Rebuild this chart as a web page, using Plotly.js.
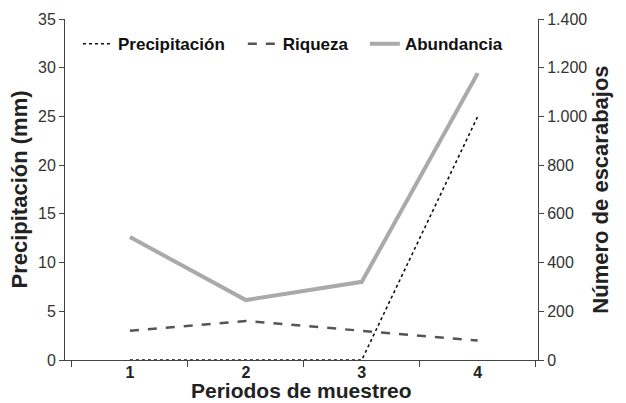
<!DOCTYPE html>
<html>
<head>
<meta charset="utf-8">
<script src="https://cdn.plot.ly/plotly-3.0.1.min.js"></script>
<style>html,body{margin:0;padding:0;background:#fff;}#chart{width:626px;height:403px;}</style>
</head>
<body>
<div id="chart"></div>
<script>
const periodos = [1, 2, 3, 4];
const periodLabels = ["1", "2", "3", "4"];
const precipitacion = [0, 0, 0, 25];
const riqueza = [3, 4, 3, 2];
const abundancia = [505, 246, 321, 1177];
const leftTicks = [0, 5, 10, 15, 20, 25, 30, 35];
const rightTicks = [0, 200, 400, 600, 800, 1000, 1200, 1400];

const FONT = "Liberation Sans, Arial, sans-serif";
const traces = [
  {x: periodos, y: precipitacion, name: "<b>Precipitación</b>", mode: "lines",
   line: {color: "#111", width: 1.6, dash: "dot"}, yaxis: "y", legend: "legend"},
  {x: periodos, y: riqueza, name: "<b>Riqueza</b>", mode: "lines",
   line: {color: "#555", width: 2.5, dash: "dash"}, yaxis: "y", legend: "legend2"},
  {x: periodos, y: abundancia, name: "<b>Abundancia</b>", mode: "lines",
   line: {color: "#aaaaaa", width: 4}, yaxis: "y2", legend: "legend3"}
];
function leg(x) {
  return {orientation: "h", x: x, y: 0.979, xanchor: "left", yanchor: "top",
          font: {size: 17, color: "#111", family: FONT}, bgcolor: "rgba(0,0,0,0)",
          itemwidth: 30};
}
const layout = {
  width: 626, height: 403,
  margin: {l: 65, r: 88, t: 19, b: 43},
  paper_bgcolor: "#fff", plot_bgcolor: "#fff",
  separators: ",.",
  font: {family: FONT, color: "#333"},
  showlegend: true,
  legend: leg(0.0275),
  legend2: leg(0.376),
  legend3: leg(0.634),
  xaxis: {range: [0.44, 4.52], tickvals: periodos, ticktext: periodLabels, ticks: "",
          ticklabelstandoff: -2,
          showgrid: false, zeroline: false, showline: true, linecolor: "#444", linewidth: 1,
          tickfont: {size: 16, color: "#222", family: FONT, weight: "bold"},
          minor: {tick0: 0.5, dtick: 1, ticks: "outside", ticklen: 6, tickcolor: "#444", showgrid: false}},
  yaxis: {range: [0, 35], tickvals: leftTicks, ticks: "outside", ticklen: 5, tickcolor: "#444",
          showgrid: false, zeroline: false, showline: true, linecolor: "#444", linewidth: 1,
          tickfont: {size: 16, color: "#333", family: FONT},
          title: {text: "<b>Precipitación (mm)</b>", font: {size: 22, color: "#222", family: FONT}, standoff: 4}},
  yaxis2: {range: [0, 1400], tickvals: rightTicks, overlaying: "y", side: "right",
           ticks: "outside", ticklen: 5, tickcolor: "#444", separatethousands: true,
           showgrid: false, zeroline: false, showline: true, linecolor: "#444", linewidth: 1,
           tickfont: {size: 16, color: "#333", family: FONT},
           title: {text: "<b>Número de escarabajos</b>", font: {size: 22, color: "#222", family: FONT}, standoff: 6}},
  annotations: [
    {text: "<b>Periodos de muestreo</b>", xref: "paper", yref: "paper", x: 0.5, y: -0.088,
     xanchor: "center", yanchor: "middle", showarrow: false, borderpad: 0,
     font: {size: 21, color: "#222", family: FONT}}
  ]
};
Plotly.newPlot("chart", traces, layout, {displayModeBar: false, staticPlot: true});
</script>
</body>
</html>
